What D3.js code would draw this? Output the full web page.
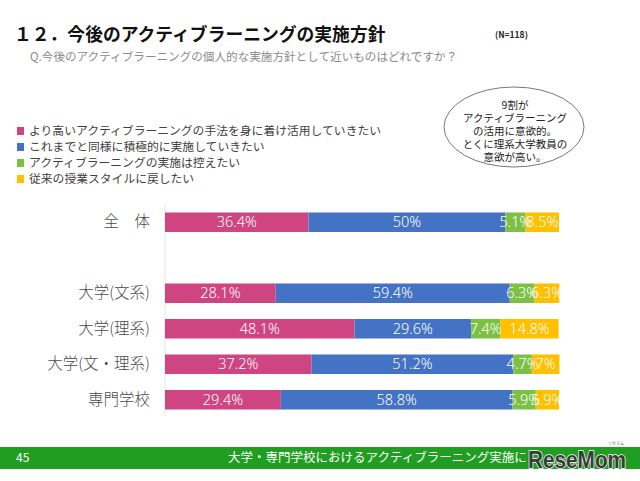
<!DOCTYPE html>
<html><head><meta charset="utf-8">
<script src="https://cdn.jsdelivr.net/npm/d3@7"></script>
<style>
body{margin:0;background:#fff;}
svg{display:block;font-family:"Noto Sans CJK JP","Noto Sans",sans-serif;}
</style></head>
<body>
<script>
const categories = ["全　体", "", "大学(文系)", "大学(理系)", "大学(文・理系)", "専門学校"];
const seriesNames = [
  "より高いアクティブラーニングの手法を身に着け活用していきたい",
  "これまでと同様に積極的に実施していきたい",
  "アクティブラーニングの実施は控えたい",
  "従来の授業スタイルに戻したい"
];
const seriesColors = ["#CF4581", "#4472C4", "#7DC144", "#FFC000"];
const s1 = [36.4, null, 28.1, 48.1, 37.2, 29.4];
const s2 = [50, null, 59.4, 29.6, 51.2, 58.8];
const s3 = [5.1, null, 6.3, 7.4, 4.7, 5.9];
const s4 = [8.5, null, 6.3, 14.8, 7, 5.9];
const noteLines = ["9割が", "アクティブラーニング", "の活用に意欲的。", "とくに理系大学教員の", "意欲が高い。"];

const W = 640, H = 481;
const svg = d3.select("body").append("svg").attr("width", W).attr("height", H);

// Title
svg.append("text").attr("x", 14).attr("y", 41).attr("font-size", 17.8).attr("font-weight", "bold")
  .attr("fill", "#111").text("１２．今後のアクティブラーニングの実施方針");
svg.append("text").attr("x", 495).attr("y", 38).attr("font-size", 8.5).attr("font-weight", "bold")
  .attr("fill", "#222").text("(N=118)");
svg.append("text").attr("x", 30).attr("y", 61).attr("font-size", 11.6)
  .attr("fill", "#8a8a8a").text("Q.今後のアクティブラーニングの個人的な実施方針として近いものはどれですか？");

// Legend
const lg = svg.append("g");
seriesNames.forEach((n, i) => {
  const y = 131 + i * 16;
  lg.append("rect").attr("x", 17).attr("y", y - 4).attr("width", 7).attr("height", 8).attr("fill", seriesColors[i]);
  lg.append("text").attr("x", 29).attr("y", y).attr("dy", "0.35em").attr("font-size", 11.8)
    .attr("fill", "#404040").text(n);
});

// Note ellipse
const ng = svg.append("g");
ng.append("ellipse").attr("cx", 514).attr("cy", 127).attr("rx", 70).attr("ry", 40)
  .attr("fill", "#fff").attr("stroke", "#555").attr("stroke-width", 0.8);
noteLines.forEach((t, i) => {
  ng.append("text").attr("x", 515).attr("y", 105 + i * 13).attr("dy", "0.35em")
    .attr("text-anchor", "middle").attr("font-size", 10.5).attr("fill", "#222").text(t);
});

// Chart
const x = d3.scaleLinear().domain([0, 100]).range([165, 559]);
const y = d3.scaleBand().domain(categories.map((c, i) => i)).range([204.5, 417.5]).paddingInner(0.45).paddingOuter(0.225);

svg.append("line").attr("x1", 165).attr("x2", 165).attr("y1", 205).attr("y2", 416)
  .attr("stroke", "#e4e4e4").attr("stroke-width", 1);

const series = [s1, s2, s3, s4];
const stackData = categories.map((c, i) => {
  const o = { i, c };
  series.forEach((s, k) => o["k" + k] = s[i] || 0);
  return o;
});
const stack = d3.stack().keys(series.map((s, k) => "k" + k))(stackData);

const gBars = svg.append("g");
stack.forEach((layer, k) => {
  gBars.append("g").attr("fill", seriesColors[k]).selectAll("rect")
    .data(layer.filter(d => series[k][d.data.i] != null))
    .join("rect")
    .attr("x", d => x(d[0])).attr("width", d => x(d[1]) - x(d[0]))
    .attr("y", d => y(d.data.i)).attr("height", y.bandwidth());
});
stack.forEach((layer, k) => {
  gBars.append("g").selectAll("text")
    .data(layer.filter(d => series[k][d.data.i] != null))
    .join("text")
    .attr("x", d => (x(d[0]) + x(d[1])) / 2)
    .attr("y", d => y(d.data.i) + y.bandwidth() / 2).attr("dy", "0.36em")
    .attr("text-anchor", "middle").attr("font-size", 14.5).attr("font-weight", 300).attr("fill", "#fff")
    .attr("font-family", "Noto Sans, sans-serif")
    .text(d => series[k][d.data.i] + "%");
});

// Category labels
const yAxis = d3.axisLeft(y).tickSize(0).tickPadding(0).tickFormat(i => categories[i]);
const ax = svg.append("g").attr("transform", "translate(150,0)").call(yAxis);
ax.select(".domain").remove();
ax.selectAll("text").attr("font-size", 15.5).attr("font-weight", 300).attr("fill", "#4a4a4a")
  .attr("font-family", "Noto Sans CJK JP, sans-serif");

// Footer
svg.append("rect").attr("x", 0).attr("y", 447).attr("width", 640).attr("height", 22).attr("fill", "#1F9E22");
svg.append("text").attr("x", 16).attr("y", 458).attr("dy", "0.35em").attr("font-size", 12).attr("fill", "#fff").text("45");
svg.append("text").attr("x", 228).attr("y", 458).attr("dy", "0.35em").attr("font-size", 12.5).attr("fill", "#fff")
  .text("大学・専門学校におけるアクティブラーニング実施に");
svg.append("text").attr("x", 528).attr("y", 468).attr("font-size", 24).attr("font-weight", "bold")
  .attr("font-family", "Liberation Sans, Arial, sans-serif").attr("fill", "#3a3a3a")
  .attr("stroke", "#ffffff").attr("stroke-width", 1.5).attr("paint-order", "stroke")
  .attr("textLength", 98).attr("lengthAdjust", "spacingAndGlyphs").text("ReseMom");
svg.append("text").attr("x", 608).attr("y", 445).attr("font-size", 4).attr("fill", "#666").text("リセマム");
</script>
</body></html>
